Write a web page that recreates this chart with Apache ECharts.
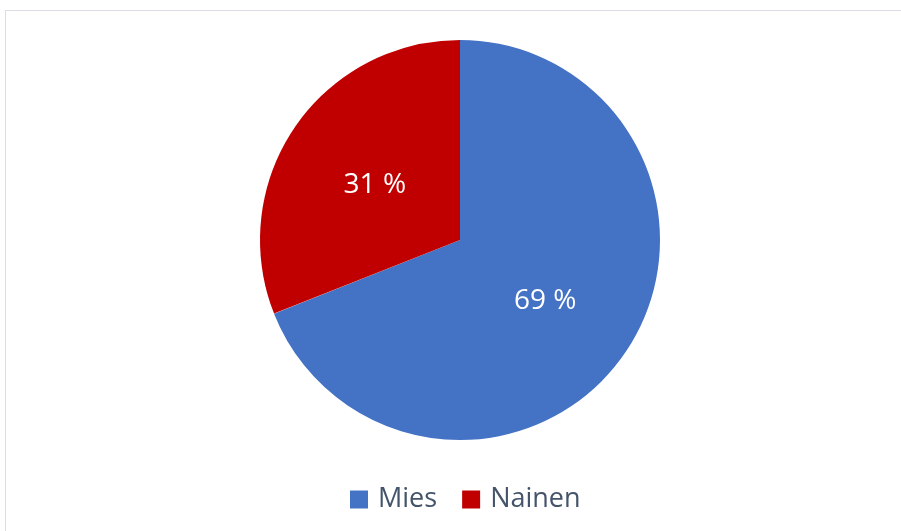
<!DOCTYPE html>
<html>
<head>
<meta charset="utf-8">
<script src="https://cdn.jsdelivr.net/npm/echarts@6/dist/echarts.min.js"></script>
<style>
    html, body { margin: 0; padding: 0; background: #fff; overflow: hidden; }
    #frame {
        position: absolute; left: 5px; top: 10px;
        width: 1000px; height: 600px;
        border: 1px solid #d9dde6;
    }
    #pieChart { position: absolute; left: 0; top: 0; width: 901px; height: 531px; }
</style>
</head>
<body>
<div id="frame"></div>
<div id="pieChart"></div>
<script>
    // 性别分布
    const categories = ['Mies', 'Nainen'];
    const values = [69, 31];
    const colors = ['#4472c4', '#c00000'];

    let myChart = echarts.init(document.getElementById('pieChart'));
    let options = {
        animation: false,
        legend: {
            data: categories,
            top: 481,
            left: 345,
            icon: 'rect',
            itemWidth: 18,
            itemHeight: 18,
            itemGap: 25,
            textStyle: {
                fontSize: 27,
                fontFamily: 'Open Sans',
                color: '#44546a',
                padding: [0, 0, 0, 5]
            }
        },
        series: [{
            type: 'pie',
            center: [460, 240],
            radius: [0, 200],
            startAngle: 90,
            clockwise: true,
            label: {
                show: true,
                position: 'inside',
                formatter: '{c} %',
                fontSize: 28,
                fontFamily: 'Open Sans',
                color: '#fff',
                offset: [0, 3]
            },
            labelLine: { show: false },
            itemStyle: { borderWidth: 0 },
            emphasis: { disabled: true },
            data: categories.map((name, i) => ({
                name: name,
                value: values[i],
                itemStyle: { color: colors[i] }
            }))
        }]
    };
    myChart.setOption(options);
</script>
</body>
</html>
